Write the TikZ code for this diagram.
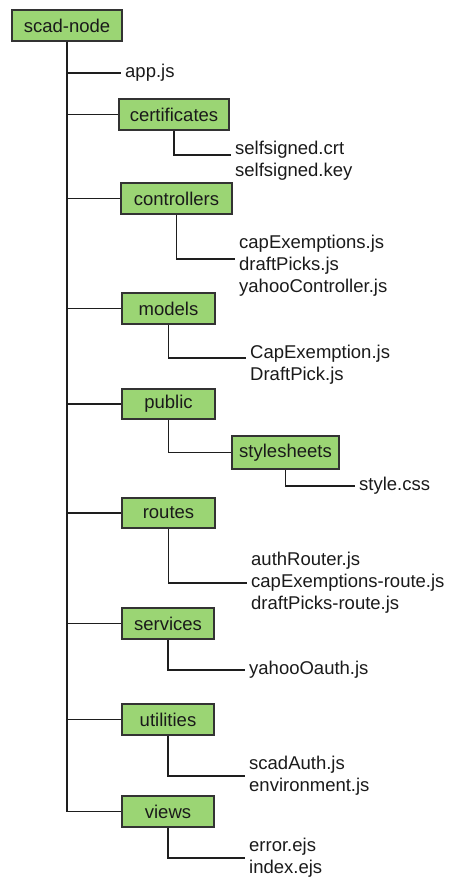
\documentclass[tikz,border=0pt]{standalone}
\usepackage{fontspec}
\setmainfont{Liberation Sans}
\definecolor{dirfill}{HTML}{9BD574}
\definecolor{dirdraw}{HTML}{333333}
\definecolor{wire}{HTML}{1E1E1E}
\definecolor{ink}{HTML}{1A1A1A}
\begin{document}
\begin{tikzpicture}[x=1pt,y=-1pt,
  dirbox/.style={draw=dirdraw,fill=dirfill,line width=1.3pt,inner sep=0pt,
    minimum height=31pt,font=\fontsize{18.5}{22}\selectfont,text=ink},
  leaf/.style={anchor=west,inner sep=4pt,align=left,
    font=\fontsize{18.5}{22}\selectfont,text=ink},
  wirestyle/.style={draw=wire,line width=1.4pt}]
\useasboundingbox (0,0) rectangle (451,881);

% folders
\node[dirbox,minimum width=110pt] (root) at (67,25.5) {scad-node};
\node[dirbox,minimum width=110pt] (certs) at (174,114.5) {certificates};
\node[dirbox,minimum width=111pt] (ctrl) at (176.5,198.5) {controllers};
\node[dirbox,minimum width=93pt] (models) at (168.5,308.5) {models};
\node[dirbox,minimum width=93pt,minimum height=30pt] (public) at (168.5,404) {public};
\node[dirbox,minimum width=107pt,minimum height=33pt] (styles) at (285.5,452.5) {stylesheets};
\node[dirbox,minimum width=93pt,minimum height=30pt] (routes) at (168.5,513) {routes};
\node[dirbox,minimum width=92pt] (services) at (168,623.5) {services};
\node[dirbox,minimum width=92pt] (utils) at (168,719.5) {utilities};
\node[dirbox,minimum width=92pt] (views) at (168,811.5) {views};

% files
\node[leaf] (app) at (121,73) {app.js};
\node[leaf] (certfiles) at (231,161) {selfsigned.crt\\selfsigned.key};
\node[leaf] (ctrlfiles) at (235,266) {capExemptions.js\\draftPicks.js\\yahooController.js};
\node[leaf] (modelfiles) at (246,365) {CapExemption.js\\DraftPick.js};
\node[leaf] (cssfile) at (355,486) {style.css};
\node[leaf] (routefiles) at (247,583) {authRouter.js\\capExemptions-route.js\\draftPicks-route.js};
\node[leaf] (servicefiles) at (245,670) {yahooOauth.js};
\node[leaf] (utilfiles) at (245,776) {scadAuth.js\\environment.js};
\node[leaf] (viewfiles) at (245,858) {error.ejs\\index.ejs};

% trunk branches
\begin{scope}[wirestyle]
\draw (root.south) |- (app.west);
\draw (root.south) |- (certs.west);
\draw (root.south) |- (ctrl.west);
\draw (root.south) |- (models.west);
\draw (root.south) |- (public.west);
\draw (root.south) |- (routes.west);
\draw (root.south) |- (services.west);
\draw (root.south) |- (utils.west);
\draw (root.south) |- (views.west);

% sub-folder branches
\draw (certs.south) |- ([yshift=6pt]certfiles.west);
\draw (ctrl.south) |- ([yshift=7pt]ctrlfiles.west);
\draw (models.south) |- ([yshift=7pt]modelfiles.west);
\draw (public.south) |- (styles.west);
\draw (styles.south) |- (cssfile.west);
\draw (routes.south) |- (routefiles.west);
\draw (services.south) |- (servicefiles.west);
\draw (utils.south) |- (utilfiles.west);
\draw (views.south) |- (viewfiles.west);
\end{scope}
\end{tikzpicture}
\end{document}
